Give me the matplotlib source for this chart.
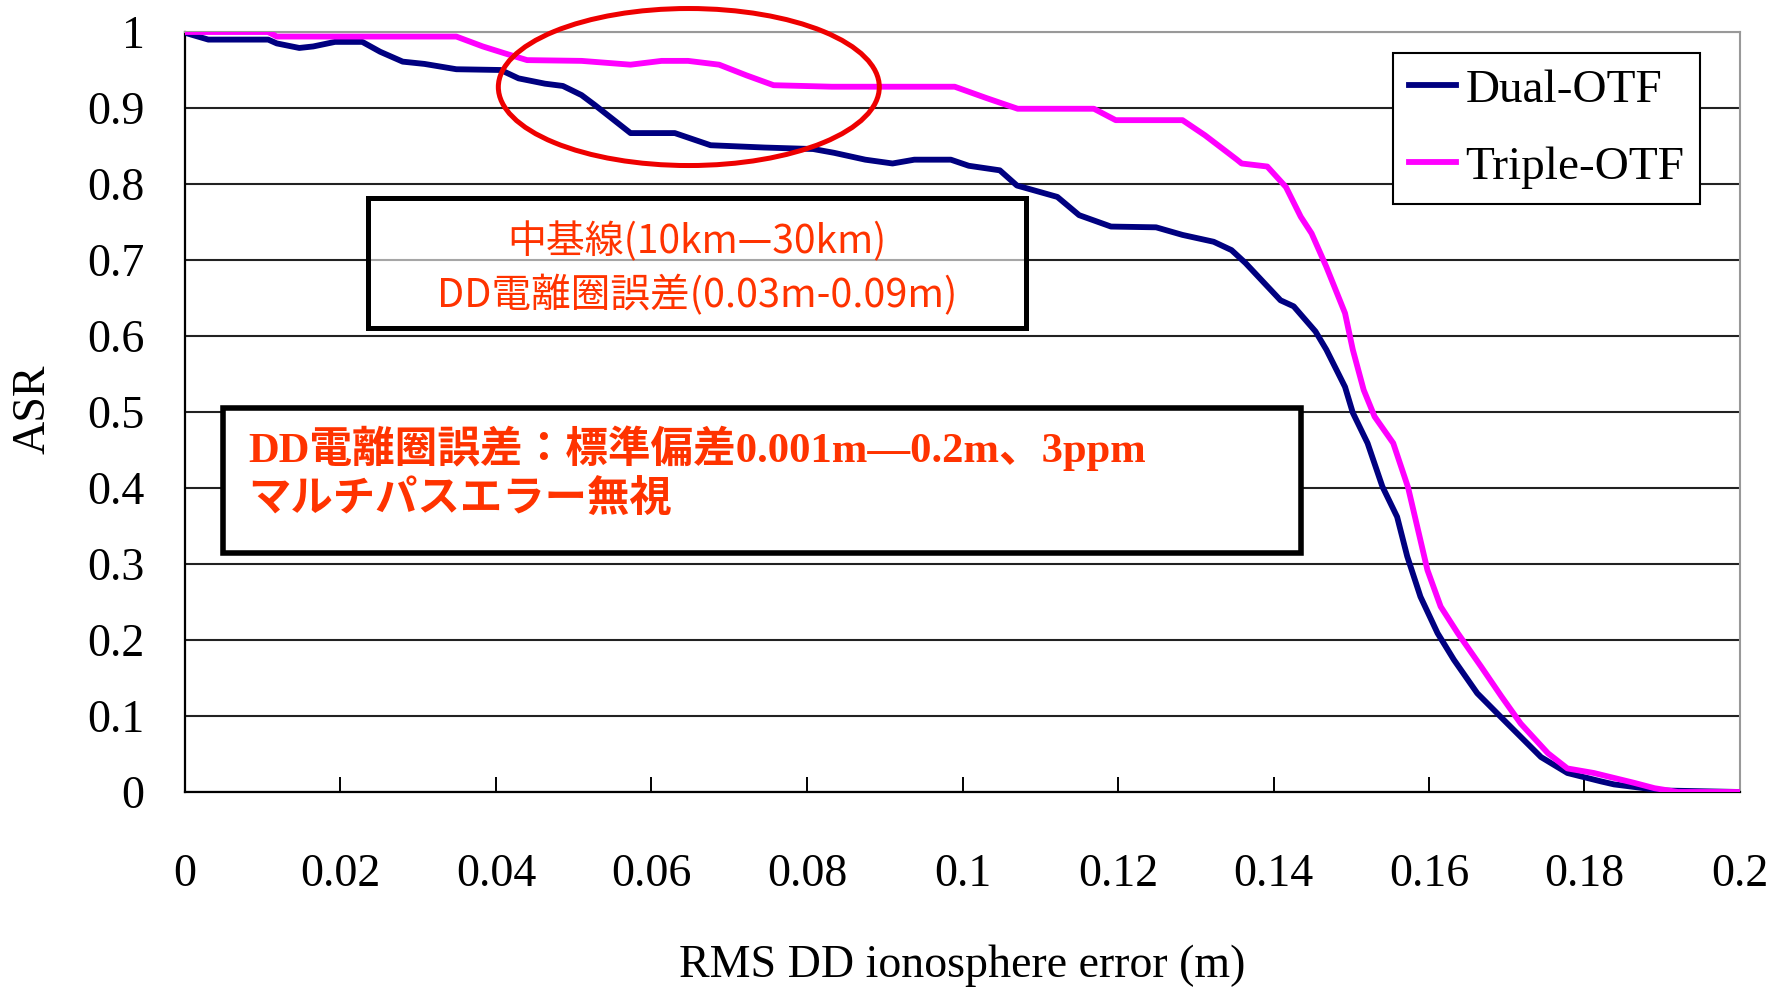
# -*- coding: utf-8 -*-
"""
ASR vs RMS DD ionosphere error, Dual-OTF vs Triple-OTF (values read off the figure).
"""

import numpy as np
import matplotlib.pyplot as plt
from matplotlib.patches import Rectangle, Ellipse

plt.rcParams['font.family'] = ['Liberation Serif', 'Noto Sans CJK JP']

# Dual-OTF curve
dual_x = [0.000, 0.003, 0.0107, 0.0118, 0.0147, 0.0165, 0.0193, 0.0228, 0.0251, 0.028,
          0.0308, 0.0349, 0.0406, 0.0429, 0.0463, 0.0486, 0.051, 0.0527, 0.0573, 0.063,
          0.0676, 0.0745, 0.0808, 0.0835, 0.0875, 0.091, 0.0938, 0.0985, 0.1008, 0.1048,
          0.107, 0.1122, 0.115, 0.1191, 0.1249, 0.1283, 0.1323, 0.1346, 0.1364, 0.1386,
          0.1409, 0.1426, 0.1454, 0.1468, 0.1492, 0.1502, 0.1521, 0.154, 0.1559, 0.1572,
          0.1589, 0.1611, 0.1632, 0.1662, 0.1696, 0.1744, 0.1778, 0.1821, 0.1838, 0.19, 0.2]
dual_y = [0.999, 0.990, 0.990, 0.985, 0.979, 0.981, 0.987, 0.987, 0.974, 0.961,
          0.958, 0.951, 0.950, 0.939, 0.932, 0.929, 0.917, 0.904, 0.867, 0.867,
          0.851, 0.848, 0.846, 0.841, 0.832, 0.827, 0.832, 0.832, 0.824, 0.818,
          0.798, 0.783, 0.759, 0.744, 0.743, 0.733, 0.724, 0.713, 0.696, 0.672,
          0.647, 0.639, 0.606, 0.582, 0.533, 0.499, 0.459, 0.402, 0.362, 0.310,
          0.257, 0.209, 0.174, 0.130, 0.095, 0.046, 0.025, 0.014, 0.010, 0.002, 0.0]

# Triple-OTF curve
triple_x = [0.000, 0.0107, 0.0118, 0.0349, 0.0383, 0.0411, 0.044, 0.051, 0.0573, 0.0613,
            0.0647, 0.0687, 0.0722, 0.0757, 0.0832, 0.099, 0.1031, 0.1071, 0.1169, 0.1197,
            0.1283, 0.1312, 0.1353, 0.1359, 0.1392, 0.1416, 0.1435, 0.1449, 0.1468, 0.1492,
            0.1502, 0.1516, 0.153, 0.1554, 0.1573, 0.1587, 0.1598, 0.1615, 0.1637, 0.1667,
            0.1693, 0.1718, 0.1753, 0.1778, 0.1812, 0.1864, 0.189, 0.192, 0.2]
triple_y = [1.000, 1.000, 0.994, 0.994, 0.981, 0.972, 0.963, 0.962, 0.957, 0.962,
            0.962, 0.957, 0.943, 0.930, 0.928, 0.928, 0.913, 0.899, 0.899, 0.884,
            0.884, 0.864, 0.832, 0.827, 0.823, 0.796, 0.757, 0.735, 0.691, 0.630,
            0.582, 0.529, 0.494, 0.459, 0.401, 0.340, 0.292, 0.244, 0.209, 0.165,
            0.126, 0.090, 0.051, 0.031, 0.025, 0.012, 0.005, 0.0, 0.0]

xticks = [0, 0.02, 0.04, 0.06, 0.08, 0.1, 0.12, 0.14, 0.16, 0.18, 0.2]
xticklabels = ['0', '0.02', '0.04', '0.06', '0.08', '0.1', '0.12', '0.14', '0.16', '0.18', '0.2']
yticks = [0, 0.1, 0.2, 0.3, 0.4, 0.5, 0.6, 0.7, 0.8, 0.9, 1.0]
yticklabels = ['0', '0.1', '0.2', '0.3', '0.4', '0.5', '0.6', '0.7', '0.8', '0.9', '1']

W, H = 1781, 989
def fx(px):
    return px / W
def fy(py):
    return 1 - py / H

red = '#FF3300'

fig = plt.figure(figsize=(W / 100, H / 100), dpi=100)
ax = fig.add_axes([fx(185), fy(792), 1555 / W, 760 / H])

ax.plot(dual_x, dual_y, color='#000080', linewidth=4.2, label='Dual-OTF', zorder=3)
ax.plot(triple_x, triple_y, color='#FF00FF', linewidth=4.2, label='Triple-OTF', zorder=3)

ax.set_xlim(0, 0.2)
ax.set_ylim(0, 1)
ax.set_xticks(xticks)
ax.set_xticklabels(xticklabels)
ax.set_yticks(yticks)
ax.set_yticklabels(yticklabels)
ax.tick_params(axis='x', direction='in', length=11, width=1.4, pad=44, labelsize=33)
ax.tick_params(axis='y', length=0, pad=29, labelsize=33)

ax.grid(axis='y', color='#222222', linewidth=1.5, zorder=1)
ax.get_ygridlines()[-1].set_color('#999999')
ax.set_axisbelow(True)
for s in ['left', 'bottom']:
    ax.spines[s].set_linewidth(1.6)
    ax.spines[s].set_color('black')
for s in ['right', 'top']:
    ax.spines[s].set_linewidth(1.5)
    ax.spines[s].set_color('#999999')

ax.set_xlabel('RMS DD ionosphere error (m)', fontsize=33)
ax.xaxis.label.set_va('center')
ax.xaxis.set_label_coords(0.5, (792 - 966) / 760)
ax.set_ylabel('ASR', fontsize=33)
ax.yaxis.label.set_va('center')
ax.yaxis.set_label_coords((33 - 185) / 1555, 0.5 + 3 / 760)

leg = ax.legend(loc='upper right', bbox_to_anchor=(fx(1700), fy(53)),
                bbox_transform=fig.transFigure, fontsize=34, frameon=True,
                fancybox=False, borderaxespad=0, borderpad=0.33, labelspacing=0.72,
                handlelength=1.0, handletextpad=0.2)
leg.get_frame().set_edgecolor('black')
leg.get_frame().set_linewidth(1.5)
leg.get_frame().set_alpha(1)

# red ellipse highlight
ax.add_patch(Ellipse((0.0648, 0.9276), 0.049, 0.2066, fill=False, edgecolor='#EE0000',
                     linewidth=3.6, clip_on=False, zorder=5))

# text box 1
fig.add_artist(Rectangle((fx(368), fy(328)), (1026 - 368) / W, (328 - 198) / H,
                         transform=fig.transFigure, facecolor=(1, 1, 1, 0.6),
                         edgecolor='black', linewidth=3.6, zorder=4))
fig.text(fx(697), fy(242), '中基線(10km—30km)', color=red, fontsize=28,
         family=['Noto Sans CJK JP'], ha='center', va='center', zorder=6)
fig.text(fx(697), fy(296), 'DD電離圈誤差(0.03m-0.09m)', color=red, fontsize=28.5,
         family=['Noto Sans CJK JP'], ha='center', va='center', zorder=6)

# text box 2
fig.add_artist(Rectangle((fx(223), fy(553)), (1301 - 223) / W, (553 - 408) / H,
                         transform=fig.transFigure, facecolor='white',
                         edgecolor='black', linewidth=4, zorder=4))
fig.text(fx(248), fy(448), 'DD電離圈誤差：標準偏差0.001m—0.2m、3ppm', color=red, fontsize=30.7,
         fontweight='bold', ha='left', va='center', zorder=6)
fig.text(fx(248), fy(500), 'マルチパスエラー無視', color=red, fontsize=30.5,
         fontweight='bold', family=['Noto Sans CJK JP'], ha='left', va='center', zorder=6)

fig.savefig('out.png', dpi=100, facecolor='white')
